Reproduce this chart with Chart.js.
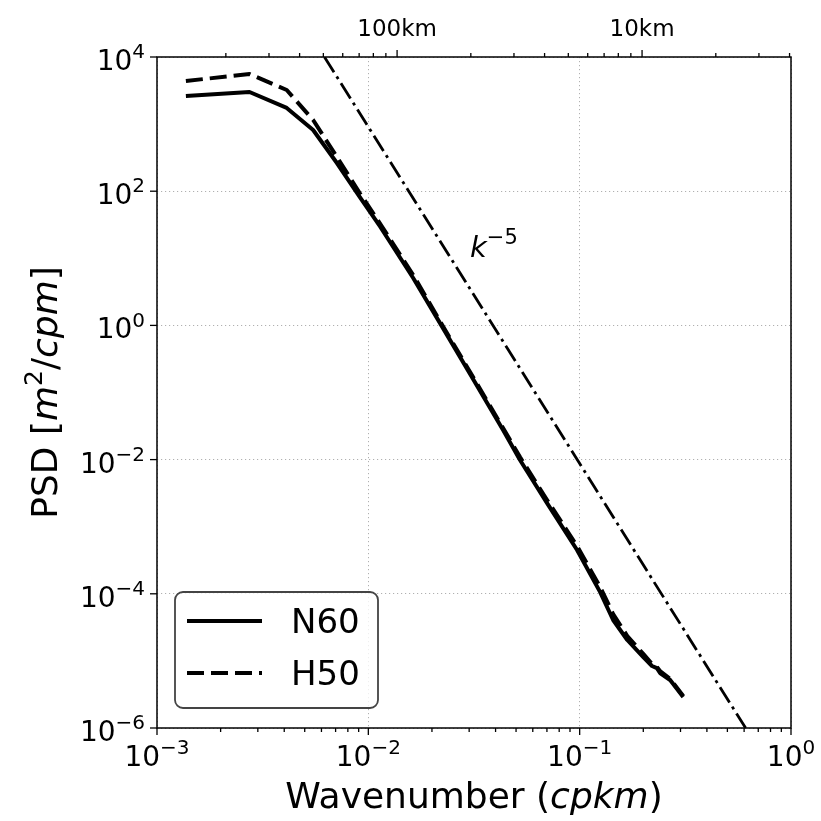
<!DOCTYPE html>
<html>
<head>
<meta charset="utf-8">
<script src="https://cdn.jsdelivr.net/npm/chart.js@4.4.1/dist/chart.umd.min.js"></script>
<style>
  html, body { margin: 0; padding: 0; background: #fff; }
  canvas { display: block; }
</style>
</head>
<body>
<canvas id="psdChart" width="821" height="821"></canvas>
<script>
// data: wavenumber (cpkm) vs PSD (m^2/cpm)
const wavenumber = [0.00137, 0.00274, 0.00411, 0.00548, 0.0071, 0.0091, 0.0114, 0.0163, 0.0218, 0.0303, 0.0434, 0.0522, 0.0701, 0.0972, 0.125, 0.144, 0.168, 0.2, 0.22, 0.232, 0.24, 0.268, 0.309];
const psdN60 = [2620, 3010, 1740, 817, 263, 82, 29.3, 5.08, 1.09, 0.189, 0.0276, 0.00986, 0.00225, 4.5e-4, 1.06e-4, 4.07e-5, 2.05e-5, 1.14e-5, 8.4e-6, 7.8e-6, 6.6e-6, 5.19e-6, 2.9e-6];
const psdH50 = [4390, 5580, 3220, 1150, 324, 94, 32.4, 5.64, 1.16, 0.202, 0.0296, 0.0109, 0.0025, 5.15e-4, 1.26e-4, 5.0e-5, 2.35e-5, 1.27e-5, 9.0e-6, 8.1e-6, 7.08e-6, 5.37e-6, 3.0e-6];

// k^-5 reference line (end points at the frame)
const refWavenumber = [0.0062, 0.61];
const refPsd = [1e4, 1e-6];

// ticks
const xTickValues = [1e-3, 1e-2, 1e-1, 1e0];
const xTickExps = ['\u22123', '\u22122', '\u22121', '0'];
const yTickValues = [1e-6, 1e-4, 1e-2, 1e0, 1e2, 1e4];
const yTickExps = ['\u22126', '\u22124', '\u22122', '0', '2', '4'];
const topTickValues = [0.01, 0.1];
const topTickLabels = ['100km', '10km'];

const FONT = "'DejaVu Sans', sans-serif";

const toPoints = (xs, ys) => xs.map((x, i) => ({ x: x, y: ys[i] }));

// draws a row of text pieces, each with its own font and vertical shift
function drawRuns(ctx, runs, x, y, align) {
    let total = 0;
    runs.forEach(r => { ctx.font = r.font; r.w = ctx.measureText(r.text).width; total += r.w; });
    let cx = align === 'right' ? x - total : align === 'center' ? x - total / 2 : x;
    ctx.textAlign = 'left';
    ctx.textBaseline = 'alphabetic';
    runs.forEach(r => {
        ctx.font = r.font;
        ctx.fillText(r.text, cx, y + (r.dy || 0));
        cx += r.w;
    });
}

function powRuns(exp, size) {
    return [
        { text: '10', font: size + 'px ' + FONT },
        { text: exp, font: Math.round(size * 0.7) + 'px ' + FONT, dy: -size * 0.42 }
    ];
}

const decorPlugin = {
    id: 'decor',
    afterDraw(chart) {
        const ctx = chart.ctx;
        const area = chart.chartArea;
        const xs = chart.scales.x, ys = chart.scales.y, ts = chart.scales.xTop;
        ctx.save();
        ctx.fillStyle = '#000';
        ctx.strokeStyle = '#000';

        // frame
        ctx.lineWidth = 1.5;
        ctx.strokeRect(area.left, area.top, area.right - area.left, area.bottom - area.top);

        // ticks
        ctx.lineWidth = 1.3;
        const tick = (x1, y1, x2, y2) => { ctx.beginPath(); ctx.moveTo(x1, y1); ctx.lineTo(x2, y2); ctx.stroke(); };
        xTickValues.forEach(v => { const px = xs.getPixelForValue(v); tick(px, area.bottom, px, area.bottom + 7); });
        for (let d = -3; d < 0; d++) {
            for (let m = 2; m <= 9; m++) {
                const px = xs.getPixelForValue(m * Math.pow(10, d));
                tick(px, area.bottom, px, area.bottom + 4);
            }
        }
        yTickValues.forEach(v => { const py = ys.getPixelForValue(v); tick(area.left, py, area.left - 7, py); });
        topTickValues.forEach(v => { const px = ts.getPixelForValue(v); tick(px, area.top, px, area.top - 7); });
        for (let d = -3; d < 0; d++) {
            for (let m = 2; m <= 9; m++) {
                const v = m * Math.pow(10, d);
                if (v < ts.min || v > ts.max) continue;
                const px = ts.getPixelForValue(v);
                tick(px, area.top, px, area.top - 4);
            }
        }

        // tick labels
        const tickSize = 28;
        xTickValues.forEach((v, i) => {
            drawRuns(ctx, powRuns(xTickExps[i], tickSize), xs.getPixelForValue(v), area.bottom + 12 + tickSize * 0.93, 'center');
        });
        yTickValues.forEach((v, i) => {
            drawRuns(ctx, powRuns(yTickExps[i], tickSize), area.left - 12, ys.getPixelForValue(v) + tickSize * 0.465, 'right');
        });
        topTickValues.forEach((v, i) => {
            drawRuns(ctx, [{ text: topTickLabels[i], font: '23px ' + FONT }], ts.getPixelForValue(v), 36, 'center');
        });

        // axis titles
        const titleSize = 36;
        const up = titleSize + 'px ' + FONT, it = 'italic ' + titleSize + 'px ' + FONT;
        drawRuns(ctx, [
            { text: 'Wavenumber (', font: up },
            { text: 'cpkm', font: it },
            { text: ')', font: up }
        ], (area.left + area.right) / 2, 808, 'center');

        ctx.save();
        ctx.translate(57, (area.top + area.bottom) / 2);
        ctx.rotate(-Math.PI / 2);
        drawRuns(ctx, [
            { text: 'PSD [', font: up },
            { text: 'm', font: it },
            { text: '2', font: Math.round(titleSize * 0.7) + 'px ' + FONT, dy: -titleSize * 0.42 },
            { text: '/', font: up },
            { text: 'cpm', font: it },
            { text: ']', font: up }
        ], 0, 0, 'center');
        ctx.restore();

        // k^-5 annotation
        drawRuns(ctx, [
            { text: 'k', font: 'italic 29px ' + FONT },
            { text: '\u22125', font: '21px ' + FONT, dy: -13 }
        ], 470, 257, 'left');

        // legend
        const lx = 175, ly = 592, lw = 203, lh = 116;
        ctx.beginPath();
        ctx.roundRect(lx, ly, lw, lh, 8);
        ctx.fillStyle = 'rgba(255,255,255,0.8)';
        ctx.fill();
        ctx.lineWidth = 1.8;
        ctx.strokeStyle = '#444';
        ctx.stroke();
        ctx.fillStyle = '#000';
        ctx.strokeStyle = '#000';
        const entries = [
            { label: 'N60', dash: [], y: 621 },
            { label: 'H50', dash: [17, 7], y: 673 }
        ];
        entries.forEach(e => {
            ctx.lineWidth = 4;
            ctx.setLineDash(e.dash);
            ctx.beginPath();
            ctx.moveTo(187, e.y);
            ctx.lineTo(262, e.y);
            ctx.stroke();
            ctx.setLineDash([]);
            drawRuns(ctx, [{ text: e.label, font: '34px ' + FONT }], 291, e.y + 12, 'left');
        });

        ctx.restore();
    }
};

const ctx = document.getElementById('psdChart').getContext('2d');

const gridOpts = { color: '#b0b0b0', lineWidth: 1, drawTicks: false };
const borderOpts = { display: false, dash: [1.2, 2.8] };

new Chart(ctx, {
    type: 'line',
    data: {
        datasets: [
            {
                label: 'N60',
                data: toPoints(wavenumber, psdN60),
                borderColor: '#000',
                borderWidth: 4,
                order: 3
            },
            {
                label: 'H50',
                data: toPoints(wavenumber, psdH50),
                borderColor: '#000',
                borderWidth: 4,
                borderDash: [17, 7],
                order: 2
            },
            {
                label: 'k^-5',
                data: toPoints(refWavenumber, refPsd),
                borderColor: '#000',
                borderWidth: 2.8,
                borderDash: [18, 5, 3, 5],
                order: 1
            }
        ]
    },
    options: {
        responsive: false,
        animation: false,
        devicePixelRatio: 1,
        layout: { padding: { left: 0, right: 30, top: 0, bottom: 0 } },
        elements: {
            point: { radius: 0 },
            line: { tension: 0, fill: false, borderCapStyle: 'butt', borderJoinStyle: 'round' }
        },
        plugins: {
            legend: { display: false },
            tooltip: { enabled: false }
        },
        scales: {
            x: {
                type: 'logarithmic',
                position: 'bottom',
                min: 1e-3,
                max: 1,
                afterBuildTicks: s => { s.ticks = xTickValues.map(v => ({ value: v })); },
                afterFit: s => { s.height = 93; },
                ticks: { display: false },
                border: borderOpts,
                grid: gridOpts
            },
            xTop: {
                type: 'logarithmic',
                position: 'top',
                min: 0.001047,
                max: 0.4055,
                afterBuildTicks: s => { s.ticks = topTickValues.map(v => ({ value: v })); },
                afterFit: s => { s.height = 57; },
                ticks: { display: false },
                border: { display: false },
                grid: { display: false }
            },
            y: {
                type: 'logarithmic',
                position: 'left',
                min: 1e-6,
                max: 1e4,
                afterBuildTicks: s => { s.ticks = yTickValues.map(v => ({ value: v })); },
                afterFit: s => { s.width = 157; },
                ticks: { display: false },
                border: borderOpts,
                grid: gridOpts
            }
        }
    },
    plugins: [decorPlugin]
});
</script>
</body>
</html>
